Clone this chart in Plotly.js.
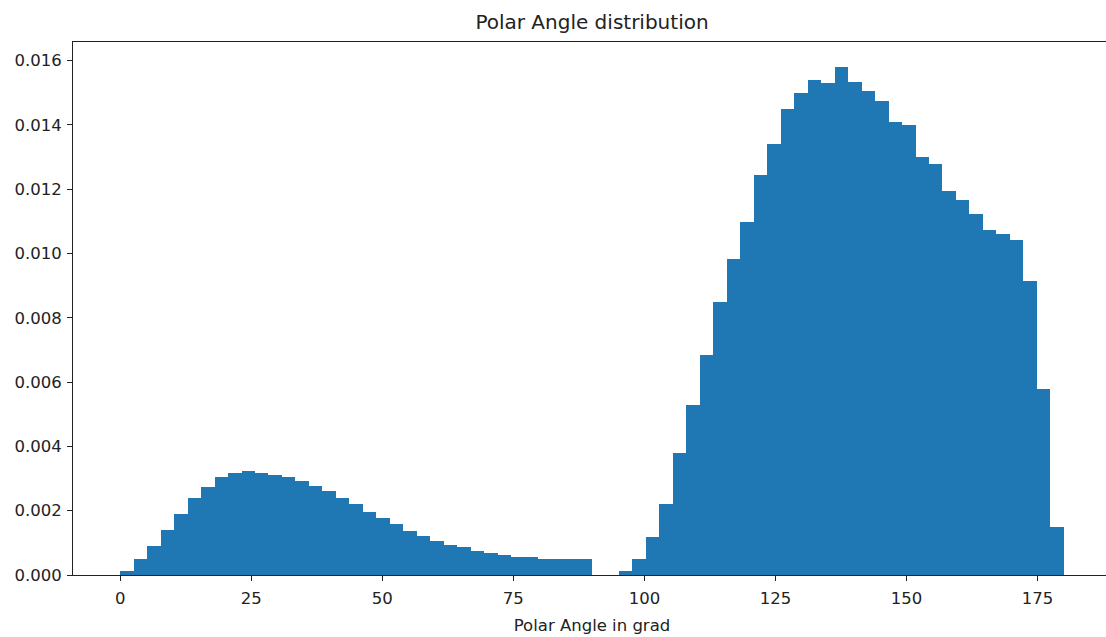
<!DOCTYPE html>
<html>
<head>
<meta charset="utf-8">
<script src="https://cdn.plot.ly/plotly-3.0.1.min.js"></script>
<style>
  html, body { margin: 0; padding: 0; overflow: hidden; background: #fff; }
  #chart { width: 1114px; height: 637px; }
</style>
</head>
<body>
<div id="chart"></div>
<script>
// Histogram setup (density histogram, 70 equal bins over 0..180)
const binStart = 0;
const binEnd = 180;
const binCount = 70;

// Density value of each bin
const density = [
  0.000135, 0.00050, 0.00091, 0.00141, 0.00189, 0.00238, 0.00274, 0.00305, 0.00316, 0.00323,
  0.00318, 0.00312, 0.00305, 0.00293, 0.00276, 0.00262, 0.00238, 0.00220, 0.00197, 0.00178,
  0.00160, 0.00136, 0.00122, 0.00105, 0.00092, 0.00086, 0.00075, 0.00067, 0.00061, 0.00056,
  0.00056, 0.00050, 0.00050, 0.00050, 0.00050, 0, 0, 0.00013, 0.00049, 0.00117,
  0.00220, 0.00378, 0.00530, 0.00683, 0.00848, 0.00982, 0.01098, 0.01245, 0.01340, 0.01450,
  0.01499, 0.01541, 0.01530, 0.01579, 0.01535, 0.01505, 0.01474, 0.01408, 0.01401, 0.01299,
  0.01279, 0.01194, 0.01165, 0.01123, 0.01072, 0.01062, 0.01043, 0.00915, 0.00579, 0.00148
];

const xTickVals = [0, 25, 50, 75, 100, 125, 150, 175];
const yTickVals = [0, 0.002, 0.004, 0.006, 0.008, 0.010, 0.012, 0.014, 0.016];

const titleText = "Polar Angle distribution";
const xTitleText = "Polar Angle in grad";

const binWidth = (binEnd - binStart) / binCount;
const binCenters = density.map((_, i) => binStart + (i + 0.5) * binWidth);
const maxDensity = Math.max(...density);
const span = binEnd - binStart;

const trace = {
  type: "bar",
  x: binCenters,
  y: density,
  width: binWidth,
  marker: { color: "#1f77b4", line: { width: 0 } },
  hoverinfo: "skip"
};

const axisCommon = {
  showline: true,
  linecolor: "#222",
  linewidth: 1,
  mirror: true,
  showgrid: false,
  zeroline: false,
  ticks: "outside",
  ticklen: 5,
  tickwidth: 1,
  tickcolor: "#222",
  tickfont: { family: "DejaVu Sans", size: 16.5, color: "#222" }
};

const layout = {
  width: 1114,
  height: 637,
  margin: { l: 73, r: 3, t: 42, b: 62 },
  paper_bgcolor: "#fff",
  plot_bgcolor: "#fff",
  showlegend: false,
  bargap: 0,
  title: {
    text: titleText,
    font: { family: "DejaVu Sans", size: 20, color: "#222" },
    x: 0.5, xref: "paper", xanchor: "center",
    y: 1, yref: "paper", yanchor: "bottom",
    pad: { b: 13 }
  },
  xaxis: Object.assign({}, axisCommon, {
    range: [binStart - 0.05 * span, binEnd + 0.05 * span],
    tickvals: xTickVals,
    ticktext: xTickVals.map(String),
    ticklabelstandoff: 3,
    title: { text: xTitleText, font: { family: "DejaVu Sans", size: 16.5, color: "#222" }, standoff: 12 }
  }),
  yaxis: Object.assign({}, axisCommon, {
    range: [0, maxDensity * 1.05],
    tickvals: yTickVals,
    tickformat: ".3f",
    ticklabelstandoff: 2
  })
};

Plotly.newPlot("chart", [trace], layout, { staticPlot: true, displayModeBar: false });
</script>
</body>
</html>
